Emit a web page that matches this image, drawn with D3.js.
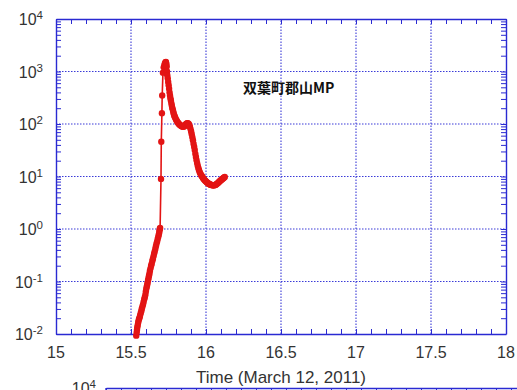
<!DOCTYPE html>
<html>
<head>
<meta charset="utf-8">
<script src="https://cdn.jsdelivr.net/npm/d3@7"></script>
<style>
  html, body { margin: 0; padding: 0; background: #fff; }
  svg { display: block; }
</style>
</head>
<body>
<svg id="chart" width="517" height="390"></svg>
<script>
// ---- data ----
const timeH = [
  15.535,15.538,15.540,15.542,15.545,15.548,15.551,15.554,15.558,15.561,
  15.565,15.569,15.572,15.576,15.580,15.584,15.588,15.592,15.596,15.599,
  15.602,15.605,15.608,15.611,15.614,15.617,15.620,15.623,15.626,15.630,
  15.634,15.638,15.642,15.646,15.650,15.654,15.658,15.662,15.666,15.670,
  15.674,15.678,15.682,15.685,15.688,15.690,15.692,15.694,
  15.700,15.702,15.706,15.708,15.713,15.718,15.722,15.726,15.730,15.733,15.736,
  15.738,15.740,15.742,15.745,15.748,15.751,15.754,15.757,15.760,15.763,
  15.766,15.769,15.772,15.775,15.778,15.781,15.784,15.787,15.790,15.793,
  15.797,15.801,15.805,15.809,15.813,15.817,15.821,15.825,15.829,15.833,
  15.837,15.841,15.845,15.849,15.853,15.857,15.861,15.865,15.869,15.873,
  15.877,15.881,15.885,15.889,15.893,15.897,15.901,15.905,15.909,15.913,
  15.917,15.921,15.925,15.929,15.933,15.937,15.941,15.945,15.949,15.953,
  15.957,15.961,15.965,15.969,15.973,15.977,15.981,15.985,15.989,15.993,
  15.997,16.001,16.005,16.009,16.013,16.017,16.021,16.025,16.029,16.033,
  16.037,16.041,16.045,16.049,16.053,16.057,16.061,16.065,16.069,16.073,
  16.077,16.081,16.085,16.089,16.093,16.097,16.101,16.105,16.109,16.113,
  16.117,16.121,16.125
];
const doseRate = [
  0.0093,0.0107,0.0120,0.0135,0.0148,0.0166,0.0182,0.0195,0.0209,0.0229,
  0.0251,0.0275,0.0302,0.0331,0.0363,0.0407,0.0457,0.0501,0.0562,0.0646,
  0.0724,0.0794,0.0871,0.0955,0.107,0.117,0.129,0.141,0.158,0.178,
  0.200,0.219,0.245,0.269,0.302,0.339,0.372,0.417,0.468,0.525,
  0.575,0.646,0.708,0.776,0.851,0.933,1.00,1.05,
  9.0,46,160,350,950,1200,1300,1420,1500,1520,1400,
  1250,1000,850,740,630,550,470,400,350,310,
  280,250,225,205,190,175,160,150,142,135,
  127,120,115,110,106,102,99,97,95,93,
  92,90,89,89,90,92,95,98,101,103,
  104,103,100,95,88,80,72,64,56,49,
  42,37,32,27,23.5,20.5,18,16,14.5,13.3,
  12.3,11.6,11.0,10.5,10.1,9.7,9.3,9.0,8.7,8.4,
  8.2,8.0,7.8,7.6,7.5,7.3,7.2,7.1,7.0,6.95,
  6.9,6.85,6.8,6.8,6.8,6.85,6.9,7.0,7.1,7.25,
  7.4,7.6,7.8,8.0,8.2,8.4,8.6,8.8,9.0,9.2,
  9.4,9.6,9.8
];
const xTickValues = [15, 15.5, 16, 16.5, 17, 17.5, 18];
const xTickLabels = ["15", "15.5", "16", "16.5", "17", "17.5", "18"];
const yTickExponents = [-2, -1, 0, 1, 2, 3, 4];
const stationLabel = "双葉町郡山MP";
const xAxisTitle = "Time (March 12, 2011)";
const nextChartTopExponent = 4;

// ---- layout ----
const svg = d3.select("#chart");
const axisBlue = "#2a2ad2";
const gridBlue = "#3a3ad8";
const textGray = "#333333";
const dataRed = "#e31414";
const font = "'Liberation Sans', Arial, sans-serif";

const x = d3.scaleLinear().domain([15, 18]).range([56, 506]);
const y = d3.scaleLog().domain([1e-2, 1e4]).range([334, 19]);

svg.append("rect").attr("width", 517).attr("height", 390).attr("fill", "#fff");

// grid
const grid = svg.append("g");
grid.selectAll("line.gx").data(xTickValues.slice(1, -1)).join("line")
  .attr("x1", d => x(d)).attr("x2", d => x(d))
  .attr("y1", y.range()[0]).attr("y2", y.range()[1])
  .attr("stroke", gridBlue).attr("stroke-width", 1.1).attr("stroke-dasharray", "1.5,1.5");
grid.selectAll("line.gy").data(yTickExponents.slice(1, -1)).join("line")
  .attr("y1", d => y(Math.pow(10, d))).attr("y2", d => y(Math.pow(10, d)))
  .attr("x1", x.range()[0]).attr("x2", x.range()[1])
  .attr("stroke", gridBlue).attr("stroke-width", 1.1).attr("stroke-dasharray", "1.5,1.5");

// tick values (minor included)
const xAllTicks = d3.range(0, 31).map(i => 15 + i / 10);
const yAllTicks = [];
for (let e = -2; e < 4; e++) for (let m = 1; m <= 9; m++) yAllTicks.push(+(m + "e" + e));
yAllTicks.push(1e4);

function styleAxis(g) {
  g.selectAll("path.domain").attr("stroke", axisBlue).attr("stroke-width", 1.4);
  g.selectAll(".tick line").attr("stroke", axisBlue).attr("stroke-width", 1);
  g.selectAll(".tick text").remove();
}
svg.append("g").attr("transform", `translate(0,${y.range()[0]})`)
  .call(d3.axisBottom(x).tickValues(xAllTicks).tickSize(-5).tickSizeOuter(0).tickFormat("")).call(styleAxis);
svg.append("g").attr("transform", `translate(0,${y.range()[1]})`)
  .call(d3.axisTop(x).tickValues(xAllTicks).tickSize(-5).tickSizeOuter(0).tickFormat("")).call(styleAxis);
svg.append("g").attr("transform", `translate(${x.range()[0]},0)`)
  .call(d3.axisLeft(y).tickValues(yAllTicks).tickSize(-5).tickSizeOuter(0).tickFormat("")).call(styleAxis);
svg.append("g").attr("transform", `translate(${x.range()[1]},0)`)
  .call(d3.axisRight(y).tickValues(yAllTicks).tickSize(-5).tickSizeOuter(0).tickFormat("")).call(styleAxis);

// x tick labels
svg.append("g").selectAll("text").data(xTickValues).join("text")
  .attr("x", d => x(d)).attr("y", 358)
  .attr("text-anchor", "middle").attr("font-family", font).attr("font-size", 16)
  .attr("fill", textGray).text((d, i) => xTickLabels[i]);

// y tick labels (10^n)
const yl = svg.append("g").selectAll("text").data(yTickExponents).join("text")
  .attr("x", 43).attr("y", d => y(Math.pow(10, d)) + 6)
  .attr("text-anchor", "end").attr("font-family", font).attr("font-size", 16)
  .attr("fill", textGray);
yl.append("tspan").text("10");
yl.append("tspan").attr("font-size", 11.5).attr("dy", -6).text(d => String(d));

// axis title
svg.append("text").attr("x", (x.range()[0] + x.range()[1]) / 2).attr("y", 383)
  .attr("text-anchor", "middle").attr("font-family", font).attr("font-size", 17)
  .attr("fill", textGray).text(xAxisTitle);

// station label
svg.append("text").attr("x", 243).attr("y", 93)
  .attr("font-family", "'Noto Sans CJK JP', sans-serif").attr("font-weight", "bold")
  .attr("font-size", 14).attr("fill", "#111").text(stationLabel);

// data line + markers
const pts = timeH.map((t, i) => [t, doseRate[i]]);
svg.append("path").datum(pts)
  .attr("fill", "none").attr("stroke", dataRed).attr("stroke-width", 1.6)
  .attr("d", d3.line().x(d => x(d[0])).y(d => y(d[1])));
svg.append("g").selectAll("circle").data(pts).join("circle")
  .attr("cx", d => x(d[0])).attr("cy", d => y(d[1])).attr("r", 3.2)
  .attr("fill", dataRed);

// start of the next chart below (only its top edge is visible)
const x2 = d3.scaleLinear().domain([15, 18]).range([106, 556]);
const y2top = 388;
svg.append("g").attr("transform", `translate(0,${y2top})`)
  .call(d3.axisTop(x2).tickValues(xAllTicks).tickSize(-5).tickSizeOuter(0).tickFormat("")).call(styleAxis);
svg.append("line").attr("x1", x2.range()[0]).attr("x2", x2.range()[0])
  .attr("y1", y2top).attr("y2", 400).attr("stroke", axisBlue).attr("stroke-width", 1.4);
const t2 = svg.append("text").attr("x", 96).attr("y", y2top + 6)
  .attr("text-anchor", "end").attr("font-family", font).attr("font-size", 16).attr("fill", textGray);
t2.append("tspan").text("10");
t2.append("tspan").attr("font-size", 11.5).attr("dy", -6).text(String(nextChartTopExponent));
</script>
</body>
</html>
